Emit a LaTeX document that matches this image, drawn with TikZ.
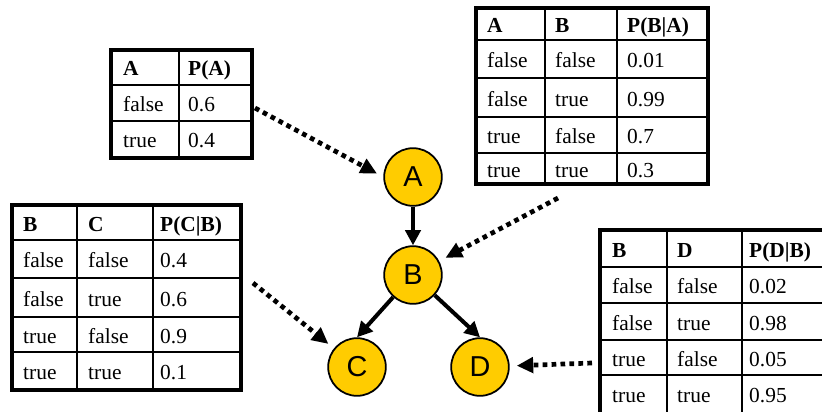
\documentclass[tikz,border=0pt]{standalone}
\usepackage{fontspec}
\setmainfont{Liberation Serif}
\newfontfamily\varfont{Liberation Sans}
\usetikzlibrary{arrows.meta}

\definecolor{vargold}{RGB}{255,204,0}

\tikzset{
	varnode/.style={circle, draw=black, line width=1.5pt, fill=vargold, minimum size=49pt, inner sep=0pt, font=\varfont\fontsize{24.5}{24.5}\selectfont},
	parentarrow/.style={line width=3.4pt, -{Triangle[length=13pt, width=13pt]}},
	cptarrow/.style={line width=4pt, dash pattern=on 4pt off 3.6pt, -{Triangle[length=14pt, width=13pt]}, shorten >=6pt},
	cptrule/.style={line width=1.2pt},
	cptframe/.style={line width=3pt},
	cptcell/.style={anchor=west, inner sep=0pt, text height=11.5pt, text depth=0pt, font=\fontsize{18.2}{18.2}\selectfont},
	cpthead/.style={cptcell, font=\fontsize{18.2}{18.2}\selectfont\bfseries}
}

\begin{document}
\begin{tikzpicture}[x=0.85pt, y=-0.85pt]
	%%%%% START %%%%%
	\useasboundingbox (0,0) rectangle (822,411);
	\clip (0,0) rectangle (822,411);
	
	% the network
	\node[varnode] (a) at (413,177) {A};
	\node[varnode] (b) at (413,275) {B};
	\node[varnode] (c) at (357,367) {C};
	\node[varnode] (d) at (480,367) {D};
	
	\draw[parentarrow] (a) -- (b);
	\draw[parentarrow] (b) -- (c.north);
	\draw[parentarrow] (b) -- (d.north);
	
	% P(A)
	\foreach \y in {85,121} \draw[cptrule] (111,\y) -- (252,\y);
	\draw[cptrule] (179,50) -- (179,158);
	\draw[cptframe] (111,50) rectangle (252,158);
	\node[cpthead] (pa-0-1) at (123,69) {A};
	\node[cpthead] (pa-0-2) at (188,69) {P(A)};
	\foreach \yc/\a/\p [count=\r] in {105/false/0.6, 141/true/0.4} {
		\node[cptcell] (pa-\r-1) at (123,\yc) {\a};
		\node[cptcell] (pa-\r-2) at (188,\yc) {\p};
	}
	
	% P(B|A)
	\foreach \y in {40,78,117,153} \draw[cptrule] (476,\y) -- (708,\y);
	\foreach \x in {545,617} \draw[cptrule] (\x,8) -- (\x,184);
	\draw[cptframe] (476,8) rectangle (708,184);
	\node[cpthead] (pba-0-1) at (487,26) {A};
	\node[cpthead] (pba-0-2) at (555,26) {B};
	\node[cpthead] (pba-0-3) at (627,26) {P(B|A)};
	\foreach \yc/\a/\b/\p [count=\r] in {61/false/false/0.01, 99.5/false/true/0.99, 137/true/false/0.7, 170.5/true/true/0.3} {
		\node[cptcell] (pba-\r-1) at (487,\yc) {\a};
		\node[cptcell] (pba-\r-2) at (555,\yc) {\b};
		\node[cptcell] (pba-\r-3) at (627,\yc) {\p};
	}
	
	% P(C|B)
	\foreach \y in {240,278,317,352} \draw[cptrule] (12,\y) -- (241,\y);
	\foreach \x in {77,153} \draw[cptrule] (\x,205) -- (\x,390);
	\draw[cptframe] (12,205) rectangle (241,390);
	\node[cpthead] (pcb-0-1) at (23,224.5) {B};
	\node[cpthead] (pcb-0-2) at (88,224.5) {C};
	\node[cpthead] (pcb-0-3) at (160,224.5) {P(C|B)};
	\foreach \yc/\b/\c/\p [count=\r] in {261/false/false/0.4, 299.5/false/true/0.6, 336.5/true/false/0.9, 373/true/true/0.1} {
		\node[cptcell] (pcb-\r-1) at (23,\yc) {\b};
		\node[cptcell] (pcb-\r-2) at (88,\yc) {\c};
		\node[cptcell] (pcb-\r-3) at (160,\yc) {\p};
	}
	
	% P(D|B), runs off the right and bottom edges
	\foreach \y in {267,303,340,375} \draw[cptrule] (600,\y) -- (833,\y);
	\foreach \x in {667,742} \draw[cptrule] (\x,230) -- (\x,416);
	\draw[cptframe] (600,230) rectangle (833,416);
	\node[cpthead] (pdb-0-1) at (612,250.5) {B};
	\node[cpthead] (pdb-0-2) at (677,250.5) {D};
	\node[cpthead] (pdb-0-3) at (749,250.5) {P(D|B)};
	\foreach \yc/\b/\d/\p [count=\r] in {287/false/false/0.02, 323.5/false/true/0.98, 359.5/true/false/0.05, 395.5/true/true/0.95} {
		\node[cptcell] (pdb-\r-1) at (612,\yc) {\b};
		\node[cptcell] (pdb-\r-2) at (677,\yc) {\d};
		\node[cptcell] (pdb-\r-3) at (749,\yc) {\p};
	}
	
	% tables to their variables
	\coordinate (pa-out) at (255,108);
	\coordinate (pba-out) at (558,198);
	\coordinate (pcb-out) at (253,283);
	\coordinate (pdb-out) at (592,363);
	
	\draw[cptarrow] (pa-out) -- (a.west);
	\draw[cptarrow] (pba-out) -- (b);
	\draw[cptarrow] (pcb-out) -- (c);
	\draw[cptarrow] (pdb-out) -- (d);
	
	%%%%% END %%%%%
\end{tikzpicture}
\end{document}
